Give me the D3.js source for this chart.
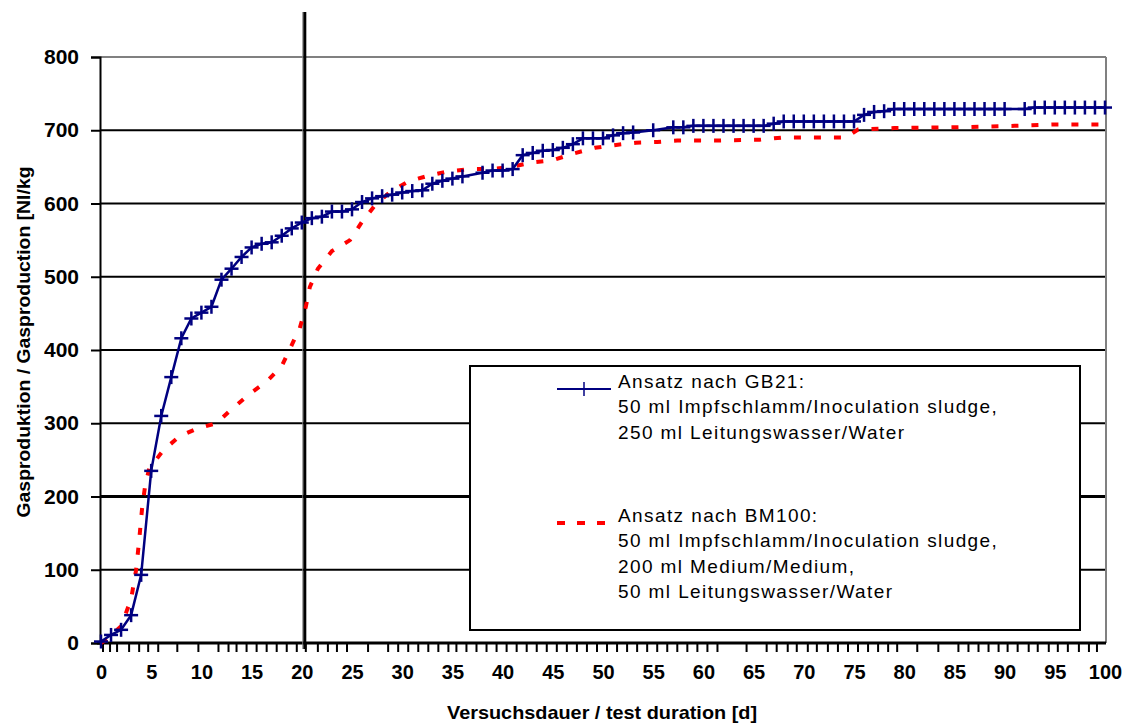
<!DOCTYPE html>
<html>
<head>
<meta charset="utf-8">
<script src="https://cdn.jsdelivr.net/npm/d3@7"></script>
<style>
  body { margin: 0; background: #fff; }
  svg { display: block; font-family: "Liberation Sans", Arial, sans-serif; }
</style>
</head>
<body>
<svg id="chart" width="1125" height="725"></svg>
<script>
// GB21 series (blue, markers) - day / value
const gbDays = [0,1,2,3,4,5,6,7,8,9,10,11,12,13,14,15,16,17,18,19,20,21,22,23,24,25,26,27,28,29,30,31,32,33,34,35,36,38,39,40,41,42,43,44,45,46,47,48,49,50,51,52,53,55,57,58,59,60,61,62,63,64,65,66,67,68,69,70,71,72,73,74,75,76,77,78,79,80,81,82,83,84,85,86,87,88,89,90,92,93,94,95,96,97,98,99,100];
const gbValues = [2,11,18,38,93,235,310,363,416,443,451,459,496,511,527,540,545,547,556,566,574,580,582,589,589,592,602,607,610,612,615,617,618,627,631,634,637,642,645,645,647,666,669,672,673,676,681,689,689,689,693,696,697,700,704,704,706,706,706,706,706,706,706,706,709,712,712,712,712,712,712,712,712,721,725,726,729,729,729,729,729,729,729,729,729,729,729,729,729,731,731,731,731,731,731,731,731,733];

// BM100 series (red, dashed)
const bmDays = [0,0.6,2,3,3.5,3.8,4.1,4.4,4.8,6.2,7.8,9.6,11.5,13,14.8,16.5,18,18.9,19.8,20.4,20.8,21.6,23,24.8,26,27.2,28.8,30.6,32.6,34.6,36.8,38.8,40.9,42.9,45,47,49.2,51.3,53.3,55.4,57.4,61.5,65.6,67.8,74.2,75.4,79,85,91,95,100];
const bmValues = [0,5,23,60,100,140,185,215,238,263,282,293,300,319,340,357,378,404,430,459,486,511,535,550,575,596,616,630,638,644,647,647,650,656,659,668,676,680,683,684,686,686,687,690,690,701,703,704,706,708,708];

const yTicks = [0,100,200,300,400,500,600,700,800];
const xTickLabels = d3.range(0, 101, 5);
// small category ticks under the x axis
const xMinorTicks = [0.2,0.9,1.6,2.8,3.8,4.7,5.7,7.6,9.7,11.7,12.7,13.5,14.5,15.5,16.5,17.5,18.5,19.5,20.4,21.6,22.6,23.5,24.5,26.6,28.6,29.6,30.6,31.6,32.6,33.6,34.6,35.4,36.4,37.4,38.4,39.4,40.4,41.4,42.4,43.4,44.4,45.4,46.4,47.4,48.4,49.4,50.4,51.4,52.4,53.4,54.4,55.4,56.4,57.4,58.4,59.4,60.4,61.4,64.3,66.3,67.3,68.4,69.3,70.4,71.3,72.4,73.4,74.4,75.4,76.4,77.4,78.4,79.3,81.3,83.4,85.4,86.4,87.4,88.4,89.4,90.3,91.3,92.4,93.3,94.4,95.3,96.3,97.4,98.4,99.2];
const markerDay = 20.3;

const legendItems = [
  { color: "#000080", dashed: false, lines: ["Ansatz nach GB21:", "50 ml Impfschlamm/Inoculation sludge,", "250 ml Leitungswasser/Water"] },
  { color: "#ff0000", dashed: true, lines: ["Ansatz nach BM100:", "50 ml Impfschlamm/Inoculation sludge,", "200 ml Medium/Medium,", "50 ml Leitungswasser/Water"] }
];

const svg = d3.select("#chart");
const plotLeft = 100, plotRight = 1106, plotTop = 57, plotBottom = 643;

const x = d3.scaleLinear().domain([0, 100]).range([plotLeft + 1, plotRight - 1]);
const y = d3.scaleLinear().domain([0, 800]).range([plotBottom, plotTop]);

// horizontal grid
svg.append("g").selectAll("line")
  .data(yTicks.filter(d => d > 0))
  .join("line")
  .attr("x1", plotLeft).attr("x2", plotRight)
  .attr("y1", d => y(d)).attr("y2", d => y(d))
  .attr("stroke", d => d === 800 ? "#808080" : "#000")
  .attr("stroke-width", d => d === 200 ? 3 : 2);

// right border
svg.append("line")
  .attr("x1", plotRight).attr("x2", plotRight).attr("y1", plotTop).attr("y2", plotBottom)
  .attr("stroke", "#808080").attr("stroke-width", 2);

// y axis
const yAxis = svg.append("g")
  .attr("transform", `translate(${plotLeft},0)`)
  .call(d3.axisLeft(y).tickValues(yTicks).tickSize(9).tickPadding(12));
yAxis.select(".domain").attr("stroke-width", 2);
yAxis.selectAll(".tick line").attr("stroke-width", 2);
yAxis.selectAll("text")
  .attr("font-size", 21).attr("font-weight", "bold")
  .attr("font-family", "Liberation Sans, Arial, sans-serif").attr("fill", "#000");

// x axis (labels only, minor ticks added below)
const xAxis = svg.append("g")
  .attr("transform", `translate(0,${plotBottom})`)
  .call(d3.axisBottom(x).tickValues(xTickLabels).tickSize(0).tickPadding(22));
xAxis.select(".domain").remove();
xAxis.selectAll("text")
  .attr("font-size", 20).attr("font-weight", "bold")
  .attr("font-family", "Liberation Sans, Arial, sans-serif").attr("fill", "#000");

svg.append("g").selectAll("line")
  .data(xMinorTicks)
  .join("line")
  .attr("x1", d => x(d)).attr("x2", d => x(d))
  .attr("y1", plotBottom).attr("y2", plotBottom + 9)
  .attr("stroke", "#000").attr("stroke-width", 2);

svg.append("line")
  .attr("x1", plotLeft - 3).attr("x2", plotRight).attr("y1", plotBottom).attr("y2", plotBottom)
  .attr("stroke", "#000").attr("stroke-width", 3);

// legend box
const lg = svg.append("g");
lg.append("rect")
  .attr("x", 470).attr("y", 366).attr("width", 610).attr("height", 264)
  .attr("fill", "#fff").attr("stroke", "#000").attr("stroke-width", 2);

const blockY = [381, 515];
legendItems.forEach((item, i) => {
  const by = blockY[i];
  lg.append("line")
    .attr("x1", 557).attr("x2", 611).attr("y1", by + 8).attr("y2", by + 8)
    .attr("stroke", item.color)
    .attr("stroke-width", item.dashed ? 4 : 2)
    .attr("stroke-dasharray", item.dashed ? "8,12" : null);
  if (!item.dashed) {
    lg.append("line")
      .attr("x1", 584).attr("x2", 584).attr("y1", by + 1).attr("y2", by + 15)
      .attr("stroke", item.color).attr("stroke-width", 1.5);
  }
  item.lines.forEach((t, j) => {
    lg.append("text")
      .attr("x", 618).attr("y", by + j * 25.5)
      .attr("dy", "0.35em")
      .attr("font-size", 19).attr("letter-spacing", 1.4)
      .attr("fill", "#000")
      .text(t);
  });
});

// vertical day-20 marker line
svg.append("line")
  .attr("x1", x(markerDay) - 2).attr("x2", x(markerDay) - 2).attr("y1", 12).attr("y2", plotBottom + 6)
  .attr("stroke", "#808080").attr("stroke-width", 1);
svg.append("line")
  .attr("x1", x(markerDay)).attr("x2", x(markerDay)).attr("y1", 12).attr("y2", plotBottom + 6)
  .attr("stroke", "#000").attr("stroke-width", 3);

// BM100 dashed line
const bmData = bmDays.map((d, i) => [d, bmValues[i]]);
svg.append("path")
  .datum(bmData)
  .attr("fill", "none")
  .attr("stroke", "#ff0000")
  .attr("stroke-width", 4)
  .attr("stroke-dasharray", "7,13")
  .attr("d", d3.line().x(d => x(d[0])).y(d => y(d[1])));

// GB21 line with plus markers
const gbData = gbDays.map((d, i) => [d, gbValues[i]]);
svg.append("path")
  .datum(gbData)
  .attr("fill", "none")
  .attr("stroke", "#000080")
  .attr("stroke-width", 2.5)
  .attr("d", d3.line().x(d => x(d[0])).y(d => y(d[1])));

const marks = svg.append("g").attr("stroke", "#000080").attr("stroke-width", 2.5);
marks.selectAll(".mh").data(gbData).join("line")
  .attr("x1", d => x(d[0]) - 7).attr("x2", d => x(d[0]) + 7)
  .attr("y1", d => y(d[1])).attr("y2", d => y(d[1]));
marks.selectAll(".mv").data(gbData).join("line")
  .attr("x1", d => x(d[0])).attr("x2", d => x(d[0]))
  .attr("y1", d => y(d[1]) - 7).attr("y2", d => y(d[1]) + 7);

// axis titles
svg.append("text")
  .attr("transform", "translate(23,342) rotate(-90)")
  .attr("text-anchor", "middle").attr("dy", "0.35em")
  .attr("font-size", 19).attr("font-weight", "bold")
  .attr("textLength", 351).attr("lengthAdjust", "spacingAndGlyphs")
  .text("Gasproduktion / Gasproduction [Nl/kg");

svg.append("text")
  .attr("x", 602).attr("y", 712)
  .attr("text-anchor", "middle").attr("dy", "0.35em")
  .attr("font-size", 19).attr("font-weight", "bold")
  .attr("textLength", 310).attr("lengthAdjust", "spacingAndGlyphs")
  .text("Versuchsdauer / test duration [d]");
</script>
</body>
</html>
